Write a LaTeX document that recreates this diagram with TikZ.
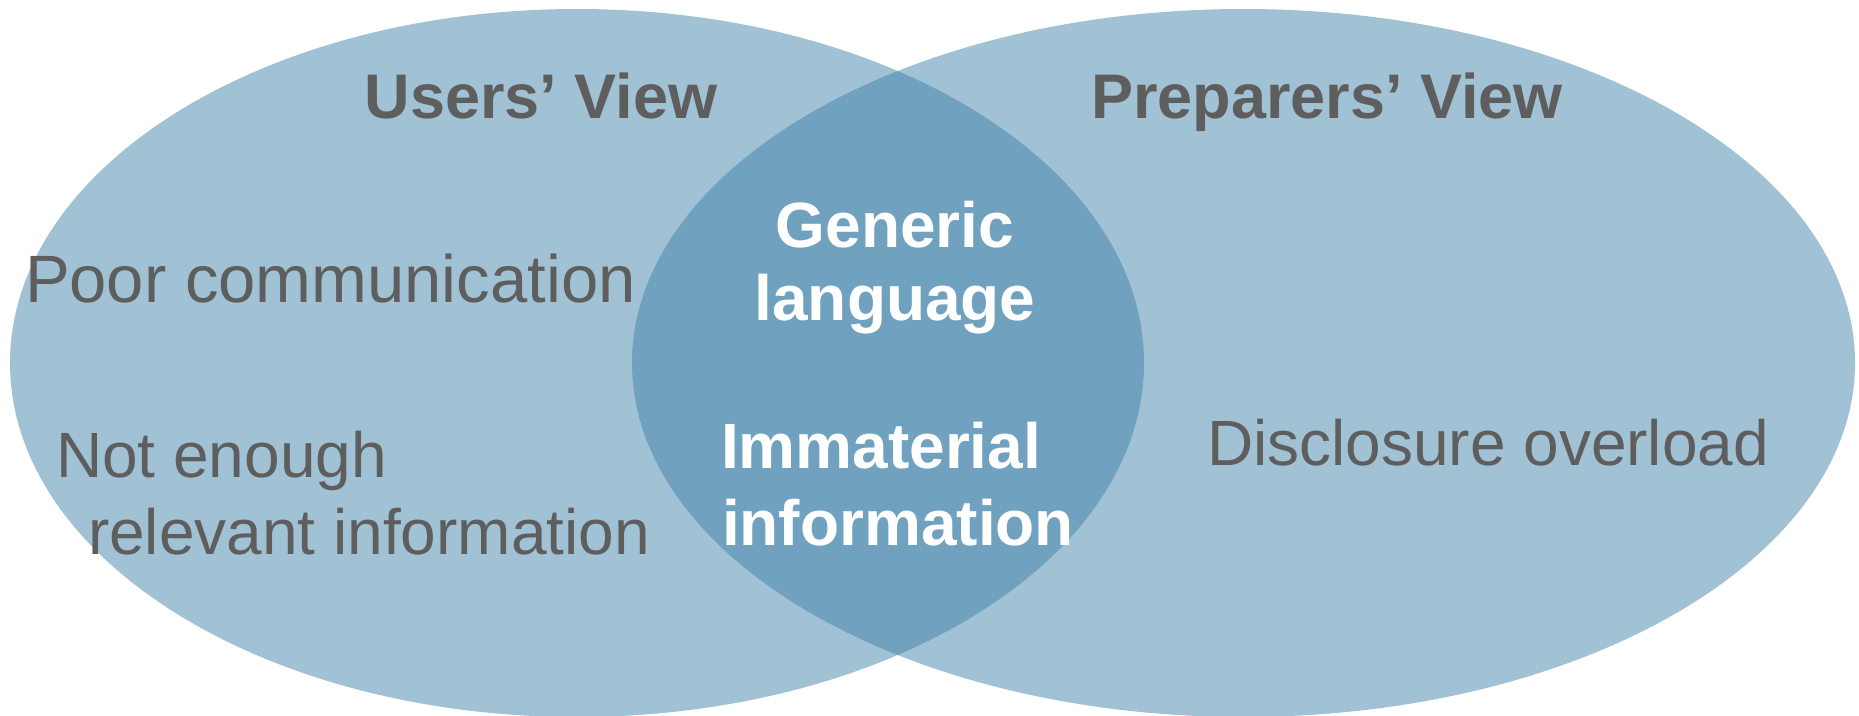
\documentclass[tikz,border=0pt]{standalone}
\usepackage{fontspec}
\setmainfont{Liberation Sans}
\definecolor{vlight}{HTML}{A1C1D4}
\definecolor{vdark}{HTML}{70A2BF}
\definecolor{vgray}{HTML}{5E5E5E}
\tikzset{
  lbl/.style={inner sep=0pt, outer sep=0pt, font=\fontsize{64}{77}\selectfont, text=vgray},
  hdr/.style={lbl, font=\fontsize{63}{76}\selectfont\bfseries},
  mid/.style={lbl, font=\fontsize{64}{77}\selectfont\bfseries, text=white},
}
\begin{document}
\begin{tikzpicture}[x=1pt,y=-1pt]
\useasboundingbox (0,0) rectangle (1859,715);
% circles
\fill[vlight] (577,363) ellipse [x radius=567pt, y radius=354pt];
\fill[vlight] (1243.5,363) ellipse [x radius=611.5pt, y radius=354pt];
\begin{scope}
  \clip (577,363) ellipse [x radius=567pt, y radius=354pt];
  \fill[vdark] (1243.5,363) ellipse [x radius=611.5pt, y radius=354pt];
\end{scope}
% headers
\node[hdr, anchor=base] (users) at (541,118.5) {Users’ View};
\node[hdr, anchor=base] (prep) at (1327,118.5) {Preparers’ View};
% left texts
\node[lbl, font=\fontsize{67}{80}\selectfont, anchor=base west] (poor) at (25,302) {Poor communication};
\node[lbl, anchor=base west] (note) at (56,477) {Not enough};
\node[lbl, anchor=base west] (rel) at (88,554) {relevant information};
% right text
\node[lbl, anchor=base west] (disc) at (1207,465) {Disclosure overload};
% middle texts
\node[mid, anchor=base] (gen) at (895,247) {Generic};
\node[mid, anchor=base] (lang) at (895,320) {language};
\node[mid, anchor=base west] (imm) at (721,468) {Immaterial};
\node[mid, anchor=base west] (info) at (722,545) {information};
\end{tikzpicture}
\end{document}
